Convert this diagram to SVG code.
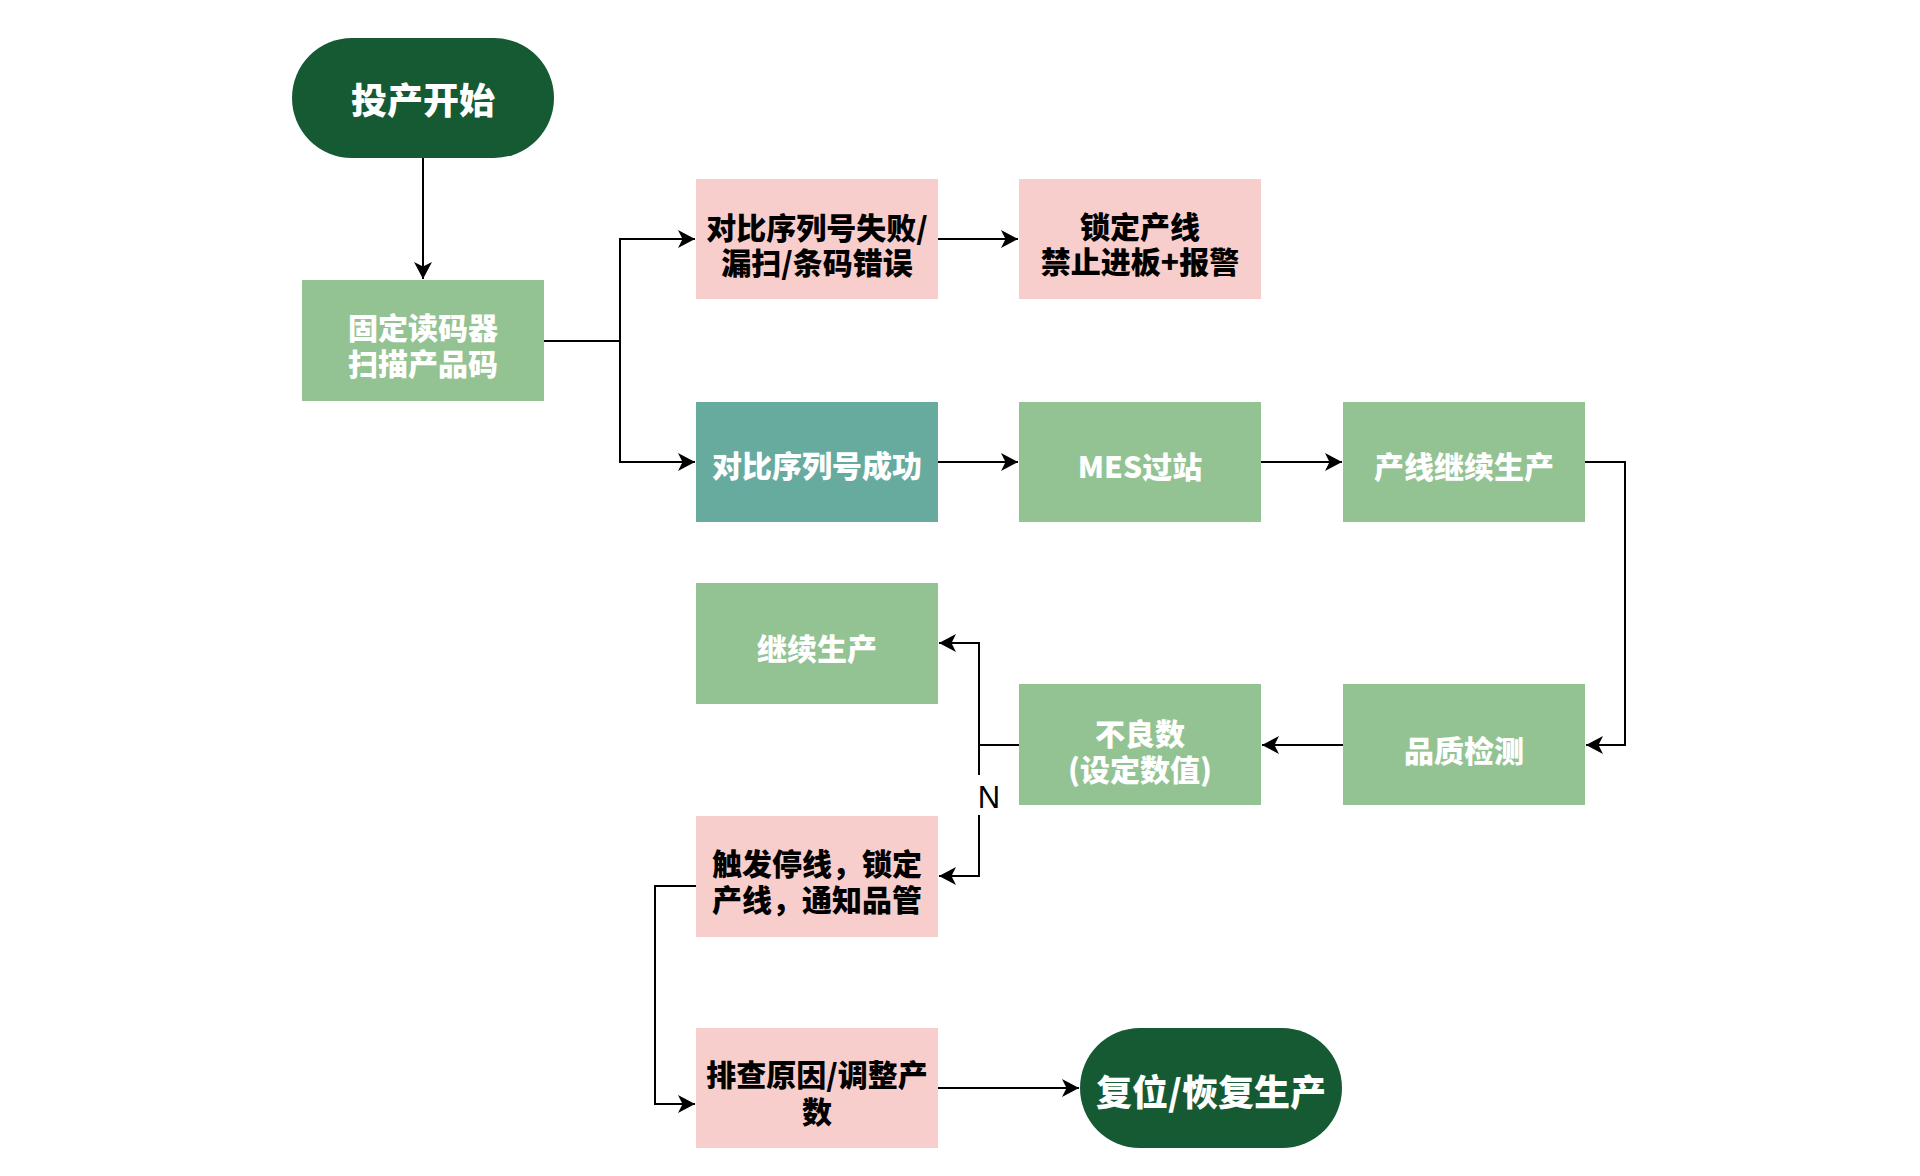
<svg xmlns="http://www.w3.org/2000/svg" width="1920" height="1176" viewBox="0 0 1920 1176">
<style>
.t{font-family:"Noto Sans CJK SC","Noto Sans",sans-serif;font-weight:900;font-size:30px;text-anchor:middle;dominant-baseline:central}
.w{fill:#ffffff}
.b{fill:#000000}
.big{font-size:36px}
.g{fill:#93c393}
.p{fill:#f8cecc}
.tl{fill:#67ab9f}
.d{fill:#155a33}
.c{fill:none;stroke:#000;stroke-width:2}
.lbl{font-family:"Liberation Sans","DejaVu Sans",sans-serif;font-size:31px;fill:#000;text-anchor:middle;dominant-baseline:central}
</style>
<defs>
<marker id="arr" viewBox="0 -10 20 20" markerWidth="20" markerHeight="20" refX="17" refY="0" orient="auto" markerUnits="userSpaceOnUse">
<path d="M0,-9 L17,0 L0,9 L4.5,0 Z" fill="#000"/>
</marker>
</defs>
<rect width="1920" height="1176" fill="#ffffff"/>
<g id="connectors">
<path class="c" d="M423,158 V279" marker-end="url(#arr)"/>
<path class="c" d="M544,341 H620 V239 H695" marker-end="url(#arr)"/>
<path class="c" d="M620,341 V462 H695" marker-end="url(#arr)"/>
<path class="c" d="M938,239 H1018" marker-end="url(#arr)"/>
<path class="c" d="M938,462 H1018" marker-end="url(#arr)"/>
<path class="c" d="M1261,462 H1342" marker-end="url(#arr)"/>
<path class="c" d="M1585,462 H1625 V745 H1586" marker-end="url(#arr)"/>
<path class="c" d="M1343,745 H1262" marker-end="url(#arr)"/>
<path class="c" d="M1019,745 H979 V643 H939" marker-end="url(#arr)"/>
<path class="c" d="M979,745 V775"/>
<path class="c" d="M979,815 V876 H939" marker-end="url(#arr)"/>
<text class="lbl" x="989" y="797">N</text>
<path class="c" d="M696,886 H655 V1104 H695" marker-end="url(#arr)"/>
<path class="c" d="M938,1088 H1079" marker-end="url(#arr)"/>
</g>
<g id="start">
<rect class="d" x="292" y="38" width="262" height="120" rx="60"/>
<text class="t w big" x="423" y="98">投产开始</text>
</g>
<g id="scan">
<rect class="g" x="302" y="280" width="242" height="121"/>
<text class="t w" x="423" y="326">固定读码器<tspan x="423" dy="36">扫描产品码</tspan></text>
</g>
<g id="fail">
<rect class="p" x="696" y="179" width="242" height="120"/>
<text class="t b" x="817" y="226">对比序列号失败/<tspan x="817" dy="35">漏扫/条码错误</tspan></text>
</g>
<g id="lock">
<rect class="p" x="1019" y="179" width="242" height="120"/>
<text class="t b" x="1140" y="225">锁定产线<tspan x="1140" dy="35">禁止进板+报警</tspan></text>
</g>
<g id="success">
<rect class="tl" x="696" y="402" width="242" height="120"/>
<text class="t w" x="817" y="464">对比序列号成功</text>
</g>
<g id="mes">
<rect class="g" x="1019" y="402" width="242" height="120"/>
<text class="t w" x="1140" y="465">MES过站</text>
</g>
<g id="continue-line">
<rect class="g" x="1343" y="402" width="242" height="120"/>
<text class="t w" x="1464" y="465">产线继续生产</text>
</g>
<g id="continue">
<rect class="g" x="696" y="583" width="242" height="121"/>
<text class="t w" x="817" y="647">继续生产</text>
</g>
<g id="defects">
<rect class="g" x="1019" y="684" width="242" height="121"/>
<text class="t w" x="1140" y="732">不良数<tspan x="1140" dy="36">(设定数值)</tspan></text>
</g>
<g id="quality">
<rect class="g" x="1343" y="684" width="242" height="121"/>
<text class="t w" x="1464" y="749">品质检测</text>
</g>
<g id="stop">
<rect class="p" x="696" y="816" width="242" height="121"/>
<text class="t b" x="817" y="862">触发停线，锁定<tspan x="817" dy="36">产线，通知品管</tspan></text>
</g>
<g id="investigate">
<rect class="p" x="696" y="1028" width="242" height="120"/>
<text class="t b" x="817" y="1073">排查原因/调整产<tspan x="817" dy="37">数</tspan></text>
</g>
<g id="resume">
<rect class="d" x="1080" y="1028" width="262" height="120" rx="60"/>
<text class="t w big" x="1211" y="1090">复位/恢复生产</text>
</g>
</svg>
